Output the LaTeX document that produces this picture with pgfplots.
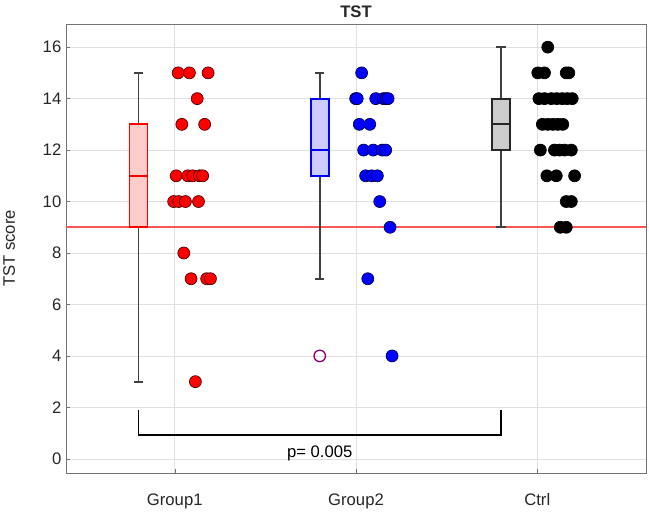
\documentclass[border=0pt]{standalone}
\usepackage{pgfplots}
\pgfplotsset{compat=1.18}
\usetikzlibrary{calc}
\usepackage{fontspec}
\setmainfont{Liberation Sans}
\definecolor{gridc}{gray}{0.88}
\definecolor{framec}{gray}{0.45}
\definecolor{txtc}{gray}{0.15}
\definecolor{whisk}{gray}{0.25}
\definecolor{refred}{RGB}{255,85,85}
\begin{document}
\begin{tikzpicture}
\begin{axis}[
  name=ax,
  scale only axis,
  width=435pt, height=336.75pt,
  xmin=0.4, xmax=3.6, ymin=-0.55, ymax=16.9,
  xtick={1,2,3}, xticklabels={Group1,Group2,Ctrl},
  ytick={0,2,...,16},
  grid=major, major grid style={gridc, line width=0.5pt},
  axis line style={framec, line width=0.7pt},
  tick style={framec},
  tick align=inside, tick pos=left,
  major tick length=3pt,
  ticklabel style={font=\fontsize{12.5}{14}\selectfont, text=txtc},
  xticklabel style={yshift=-12pt},
  /pgf/number format/assume math mode=true,
  ylabel={TST score}, ylabel style={font=\fontsize{12.5}{14}\selectfont, text=txtc},
  ylabel shift=14pt,
  title={\textbf{TST}}, title style={font=\fontsize{12.5}{14}\selectfont, text=txtc, yshift=-5pt},
  clip=false,
]
% reference line
\addplot[color=refred, line width=1.2pt] coordinates {(0.4,9) (3.6,9)};
% Group1 box
\addplot[color=whisk, line width=1.4pt] coordinates {(0.8,3) (0.8,9)};
\addplot[color=whisk, line width=1.4pt] coordinates {(0.8,13) (0.8,15)};
\addplot[color=whisk, line width=1.4pt] coordinates {(0.775,3) (0.825,3)};
\addplot[color=whisk, line width=1.4pt] coordinates {(0.775,15) (0.825,15)};
\addplot[color=red, fill=red!20, line width=1.4pt] coordinates {(0.75,9) (0.85,9) (0.85,13) (0.75,13)} -- cycle;
\addplot[color=red, line width=1.4pt] coordinates {(0.75,11) (0.85,11)};
% Group2 box
\addplot[color=whisk, line width=1.4pt] coordinates {(1.8,7) (1.8,11)};
\addplot[color=whisk, line width=1.4pt] coordinates {(1.8,14) (1.8,15)};
\addplot[color=whisk, line width=1.4pt] coordinates {(1.775,7) (1.825,7)};
\addplot[color=whisk, line width=1.4pt] coordinates {(1.775,15) (1.825,15)};
\addplot[color=blue, fill=blue!20, line width=1.4pt] coordinates {(1.75,11) (1.85,11) (1.85,14) (1.75,14)} -- cycle;
\addplot[color=blue, line width=1.4pt] coordinates {(1.75,12) (1.85,12)};
% Ctrl box
\addplot[color=whisk, line width=1.4pt] coordinates {(2.8,9) (2.8,12)};
\addplot[color=whisk, line width=1.4pt] coordinates {(2.8,14) (2.8,16)};
\addplot[color=whisk, line width=1.4pt] coordinates {(2.775,9) (2.825,9)};
\addplot[color=whisk, line width=1.4pt] coordinates {(2.775,16) (2.825,16)};
\addplot[color=black!85, fill=black!20, line width=1.4pt] coordinates {(2.75,12) (2.85,12) (2.85,14) (2.75,14)} -- cycle;
\addplot[color=black!85, line width=1.4pt] coordinates {(2.75,13) (2.85,13)};
% outlier
\addplot[only marks, mark=o, mark size=4.3pt, color=violet!70!purple, line width=1pt] coordinates {(1.8,4)};
% Group1 points
\addplot[only marks, mark=*, mark size=4.5pt, fill=red, draw=black!70!red, line width=0.5pt] coordinates {
(1.019,15) (1.081,15) (1.184,15)
(1.124,14)
(1.039,13) (1.165,13)
(1.008,11) (1.072,11) (1.099,11) (1.136,11) (1.154,11)
(0.994,10) (1.022,10) (1.059,10) (1.131,10)
(1.050,8)
(1.090,7) (1.176,7) (1.197,7)
(1.114,3)};
% Group2 points
\addplot[only marks, mark=*, mark size=4.5pt, fill=blue, draw=black!70!blue, line width=0.5pt] coordinates {
(2.031,15)
(1.998,14) (2.007,14) (2.109,14) (2.151,14) (2.167,14) (2.177,14)
(2.018,13) (2.076,13)
(2.042,12) (2.095,12) (2.145,12) (2.164,12)
(2.053,11) (2.087,11) (2.118,11)
(2.131,10)
(2.188,9)
(2.065,7)
(2.199,4)};
% Ctrl points
\addplot[only marks, mark=*, mark size=4.5pt, fill=black, draw=black, line width=0.5pt] coordinates {
(3.058,16)
(3.003,15) (3.040,15) (3.160,15) (3.174,15)
(3.009,14) (3.040,14) (3.077,14) (3.108,14) (3.138,14) (3.165,14) (3.193,14)
(3.028,13) (3.058,13) (3.086,13) (3.114,13) (3.141,13)
(3.017,12) (3.095,12) (3.123,12) (3.151,12) (3.188,12)
(3.053,11) (3.105,11) (3.206,11)
(3.160,10) (3.188,10)
(3.127,9) (3.160,9)};
% significance bracket
\addplot[color=black, line width=1.3pt] coordinates {(0.8,1.9) (0.8,0.93) (2.8,0.93) (2.8,1.9)};
\node[font=\fontsize{12.5}{14}\selectfont, text=black] at (axis cs:1.8,0.22) {p= 0.005};
\end{axis}
\pgfresetboundingbox
\path ($(ax.south west)+(-49.5pt,-30.75pt)$) rectangle ($(ax.north east)+(2.25pt,18pt)$);
\end{tikzpicture}
\end{document}
